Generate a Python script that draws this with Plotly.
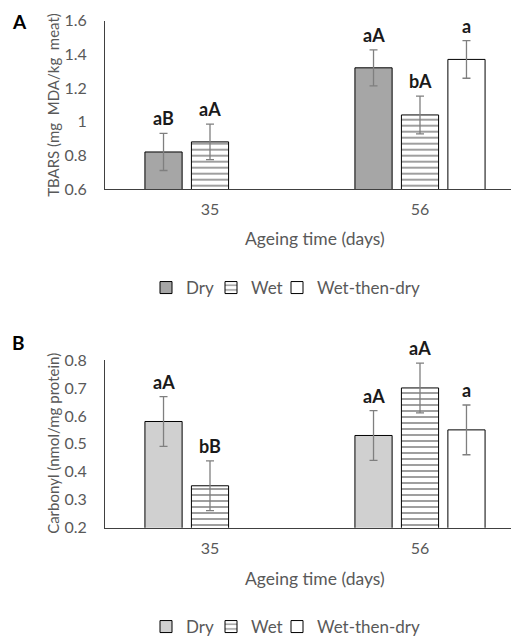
import plotly.graph_objects as go

days = ["35", "56"]
groups = ["Dry", "Wet", "Wet-then-dry"]

tbars = {"Dry": [0.82, 1.32], "Wet": [0.88, 1.04], "Wet-then-dry": [None, 1.37]}
tbars_err = {"Dry": [0.11, 0.107], "Wet": [0.106, 0.112], "Wet-then-dry": [None, 0.112]}
tbars_lbl = {"Dry": ["aB", "aA"], "Wet": ["aA", "bA"], "Wet-then-dry": ["", "a"]}

carb = {"Dry": [0.58, 0.53], "Wet": [0.35, 0.70], "Wet-then-dry": [None, 0.55]}
carb_err = {"Dry": [0.089, 0.089], "Wet": [0.089, 0.089], "Wet-then-dry": [None, 0.089]}
carb_lbl = {"Dry": ["aA", "aA"], "Wet": ["bB", "aA"], "Wet-then-dry": ["", "a"]}

# page body has an 8px margin
OFF = 8
W, H = 519 - OFF, 642 - OFF
FONT = "Lato"
GREY = "#595959"

def px(x):
    return (x - OFF) / W

def py(y):
    return 1 - (y - OFF) / H

BARGAP = 0.336
GROUPGAP = 0.2
slot = (1 - BARGAP) / 3

xs = [0, 1]
LEGW = {"Dry": 20, "Wet": 21, "Wet-then-dry": 110}

fig = go.Figure()

def add_panel(data, err, lbls, dry_color, xa, ya, legend):
    for j, g in enumerate(groups):
        if g == "Dry":
            marker = dict(color=dry_color, line=dict(color="black", width=1))
        elif g == "Wet":
            marker = dict(color="white", line=dict(color="black", width=1),
                          pattern=dict(shape="-", fgcolor="black", bgcolor="white",
                                       size=6, solidity=0.25))
        else:
            marker = dict(color="white", line=dict(color="black", width=1))
        fig.add_trace(go.Bar(
            x=xs, y=data[g], name=g, marker=marker,
            error_y=dict(type="data", array=[e if e is not None else 0 for e in err[g]],
                         color="#7f7f7f", thickness=1.3, width=4),
            xaxis=xa, yaxis=ya, legend=legend, showlegend=True,
            legendwidth=LEGW[g],
        ))
        for i in range(2):
            if data[g][i] is None:
                continue
            fig.add_annotation(
                x=xs[i] + (j - 1) * slot, y=data[g][i] + err[g][i],
                xref=xa, yref=ya, text="<b>%s</b>" % lbls[g][i],
                showarrow=False, xanchor="center", yanchor="bottom", yshift=2,
                font=dict(family=FONT, size=18, color="#1a1a1a"),
            )

add_panel(tbars, tbars_err, tbars_lbl, "#a6a6a6", "x", "y", "legend")
add_panel(carb, carb_err, carb_lbl, "#d0d0d0", "x2", "y2", "legend2")

AXL = 105
x0 = px(AXL)
xrange = [-0.5, -0.5 + (519 - AXL) / 210]
dA = [py(189), py(20.7)]
dB = [py(527.7), py(360)]

axcommon = dict(showgrid=False, zeroline=False, showline=True, linecolor="#404040",
                linewidth=1, ticks="", automargin=False,
                tickfont=dict(family=FONT, size=16, color=GREY))

legcommon = dict(orientation="h", xanchor="left", yanchor="middle",
                 font=dict(family=FONT, size=17, color=GREY), itemwidth=30,
                 bgcolor="rgba(0,0,0,0)")

fig.update_layout(
    width=W, height=H, margin=dict(l=0, r=0, t=0, b=0, autoexpand=False),
    paper_bgcolor="white", plot_bgcolor="white",
    barmode="group", bargap=BARGAP, bargroupgap=GROUPGAP,
    xaxis=dict(domain=[x0, 1], anchor="y", range=xrange, tickvals=xs, ticktext=days,
               ticklabelstandoff=6, **axcommon),
    yaxis=dict(domain=dA, anchor="x", range=[0.6, 1.6], dtick=0.2,
               ticklabelstandoff=14, **axcommon),
    xaxis2=dict(domain=[x0, 1], anchor="y2", range=xrange, tickvals=xs, ticktext=days,
                ticklabelstandoff=6, **axcommon),
    yaxis2=dict(domain=dB, anchor="x2", range=[0.2, 0.8], dtick=0.1,
                ticklabelstandoff=14, **axcommon),
    legend=dict(x=px(146), y=py(288), **legcommon),
    legend2=dict(x=px(146), y=py(627), **legcommon),
    showlegend=True,
)

# axis titles and panel letters
for yy in (239, 578):
    fig.add_annotation(x=px(315), y=py(yy), xref="paper", yref="paper",
                       xanchor="center", yanchor="middle",
                       text="Ageing time (days)", showarrow=False,
                       font=dict(family=FONT, size=17.5, color=GREY))
fig.add_annotation(x=px(53), y=(dA[0] + dA[1]) / 2, xref="paper", yref="paper",
                   xanchor="center", yanchor="middle",
                   text="TBARS (mg  MDA/kg  meat)", showarrow=False, textangle=-90,
                   font=dict(family=FONT, size=15, color=GREY))
fig.add_annotation(x=px(53), y=(dB[0] + dB[1]) / 2, xref="paper", yref="paper",
                   xanchor="center", yanchor="middle",
                   text="Carbonyl (nmol/mg protein)", showarrow=False, textangle=-90,
                   font=dict(family=FONT, size=15, color=GREY))
fig.add_annotation(x=px(19), y=py(22), xref="paper", yref="paper",
                   xanchor="center", yanchor="middle",
                   text="<b>A</b>", showarrow=False,
                   font=dict(family=FONT, size=19, color="black"))
fig.add_annotation(x=px(18), y=py(342), xref="paper", yref="paper",
                   xanchor="center", yanchor="middle",
                   text="<b>B</b>", showarrow=False,
                   font=dict(family=FONT, size=19, color="black"))

fig.write_html("out.html")
